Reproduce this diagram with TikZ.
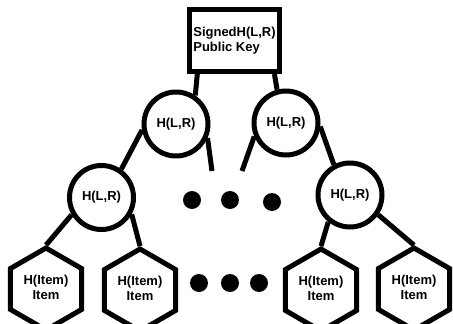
\documentclass[tikz,border=0pt]{standalone}
\usepackage{fontspec}
\setmainfont{Liberation Sans}
\usetikzlibrary{shapes.geometric}
\begin{document}
\begin{tikzpicture}[x=1pt,y=-1pt,
  every node/.style={font=\fontsize{13}{15}\selectfont\bfseries},
  keybox/.style={draw,line width=5pt,rectangle,minimum width=90pt,minimum height=62pt,inner sep=0pt,align=left,fill=white},
  hnode/.style={draw,line width=5pt,circle,minimum size=64pt,inner sep=0pt},
  leaf/.style={draw,line width=5pt,regular polygon,regular polygon sides=6,regular polygon rotate=30,minimum size=82pt,inner sep=0pt,align=center},
  dot/.style={circle,fill=black,minimum size=18pt,inner sep=0pt},
  link/.style={line width=5pt}]
\useasboundingbox (0,0) rectangle (453,324);
\clip (0,0) rectangle (453,324);
\node[keybox] (box) at (234.5,40.5) {SignedH(L,R)\\Public Key};
\node[hnode] (l1) at (176,124) {\raisebox{2pt}{H(L,R)}};
\node[hnode] (r1) at (286,123) {\raisebox{2pt}{H(L,R)}};
\node[hnode] (m1) at (101.5,197.5) {H(L,R)};
\node[hnode] (m2) at (350,195) {H(L,R)};
\node[leaf] (h1) at (46,289) {\raisebox{3pt}{\begin{tabular}{@{}c@{}}H(Item)\\Item\end{tabular}}};
\node[leaf] (h2) at (140,290) {\raisebox{3pt}{\begin{tabular}{@{}c@{}}H(Item)\\Item\end{tabular}}};
\node[leaf] (h3) at (321,290) {\raisebox{3pt}{\begin{tabular}{@{}c@{}}H(Item)\\Item\end{tabular}}};
\node[leaf] (h4) at (414,289) {\raisebox{3pt}{\begin{tabular}{@{}c@{}}H(Item)\\Item\end{tabular}}};
\node[dot] (d1) at (192,200) {};
\node[dot] (d2) at (230,200) {};
\node[dot] (d3) at (272,202) {};
\node[dot] (d4) at (199,283) {};
\node[dot] (d5) at (230,283) {};
\node[dot] (d6) at (259,283) {};
\coordinate (s1) at (212,171);
\coordinate (s2) at (242,171);
\draw[link] (box.222) -- (l1.56);
\draw[link] (box.-40) -- (r1.105);
\draw[link] (l1.190) -- (m1.55);
\draw[link] (l1.-24) -- (s1);
\draw[link] (r1.203) -- (s2);
\draw[link] (r1.-6) -- (m2.118);
\draw[link] (m1.210) -- (h1.north);
\draw[link] (m1.-29) -- (h2.north);
\draw[link] (m2.231) -- (h3.north);
\draw[link] (m2.-35) -- (h4.north);
\end{tikzpicture}
\end{document}
